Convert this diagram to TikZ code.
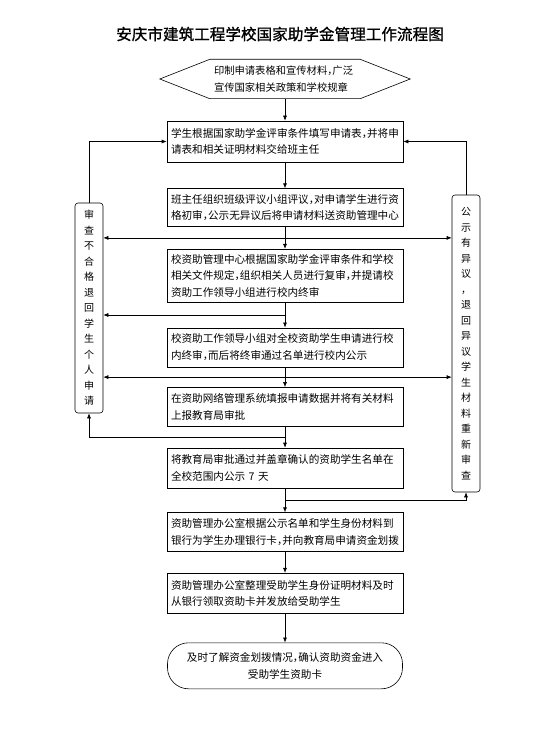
\documentclass[tikz,border=0pt]{standalone}
\usepackage{fontspec}
\setmainfont{Noto Sans CJK SC}
\newfontfamily\titlefont[FakeBold=1]{Noto Sans CJK SC}
\usetikzlibrary{arrows.meta, positioning, calc}
\newcommand{\hcomma}{\makebox[0.5em][l]{，}}
\tikzset{
    titletext/.style={font=\titlefont\fontsize{15.6pt}{18pt}\selectfont},
    stepbox/.style={rectangle, draw=black, line width=0.6pt, text width=228pt, inner xsep=4pt, inner ysep=2pt, align=left, font=\fontsize{10.6pt}{16.5pt}\selectfont},
    hextext/.style={rectangle, minimum width=150pt, minimum height=39pt, text width=142pt, inner xsep=4pt, align=left, font=\fontsize{10.3pt}{16.5pt}\selectfont},
    terminal/.style={rectangle, rounded corners=21pt, draw=black, line width=0.6pt, minimum width=235pt, minimum height=46pt, align=center, font=\fontsize{10.6pt}{17pt}\selectfont},
    sidebox/.style={rectangle, rounded corners=3pt, draw=black, line width=0.6pt, minimum width=28pt, align=center, font=\fontsize{10pt}{15.5pt}\selectfont},
    line/.style={line width=0.6pt},
    arrow/.style={line width=0.6pt,-{Latex[length=5pt,width=4pt]}},
    twoway/.style={line width=0.6pt,{Latex[length=5pt,width=4pt]}-{Latex[length=5pt,width=4pt]}}
}
\begin{document}
\begin{tikzpicture}[x=1pt, y=-1pt, node distance=22pt]
    \useasboundingbox (0,0) rectangle (558,735);
    \node (title) [titletext] at (280,34) {安庆市建筑工程学校国家助学金管理工作流程图};

    % main column
    \node (print) [hextext] at (285,79) {印制申请表格和宣传材料\hcomma 广泛\\宣传国家相关政策和学校规章};
    \draw [line] (print.north west) -- (print.north east) -- ([xshift=50pt]print.east) -- (print.south east) -- (print.south west) -- ([xshift=-50pt]print.west) -- cycle;
    \node (apply) [stepbox, minimum height=41pt, below=22pt of print] {学生根据国家助学金评审条件填写申请表\hcomma 并将申\\请表和相关证明材料交给班主任};
    \node (class) [stepbox, minimum height=38pt, below=26pt of apply] {班主任组织班级评议小组评议\hcomma 对申请学生进行资\\格初审\hcomma 公示无异议后将申请材料送资助管理中心};
    \node (centre) [stepbox, minimum height=53pt, below=22pt of class] {校资助管理中心根据国家助学金评审条件和学校\\相关文件规定\hcomma 组织相关人员进行复审\hcomma 并提请校\\资助工作领导小组进行校内终审};
    \node (final) [stepbox, minimum height=39pt, below=25pt of centre] {校资助工作领导小组对全校资助学生申请进行校\\内终审\hcomma 而后将终审通过名单进行校内公示};
    \node (report) [stepbox, minimum height=39pt, below=20pt of final] {在资助网络管理系统填报申请数据并将有关材料\\上报教育局审批};
    \node (publish) [stepbox, minimum height=40pt, below=21pt of report] {将教育局审批通过并盖章确认的资助学生名单在\\全校范围内公示 7 天};
    \node (bank) [stepbox, minimum height=39pt, below=24pt of publish] {资助管理办公室根据公示名单和学生身份材料到\\银行为学生办理银行卡\hcomma 并向教育局申请资金划拨};
    \node (issue) [stepbox, minimum height=40pt, below=21pt of bank] {资助管理办公室整理受助学生身份证明材料及时\\从银行领取资助卡并发放给受助学生};
    \node (check) [terminal, below=29pt of issue] {及时了解资金划拨情况\hcomma 确认资助资金进入\\受助学生资助卡};

    % side boxes
    \node (reject) [sidebox, minimum height=210pt] at (89,308) {审\\查\\不\\合\\格\\退\\回\\学\\生\\个\\人\\申\\请};
    \node (appeal) [sidebox, minimum height=297pt] at (466,343.5) {公\\示\\有\\异\\议\\，\\退\\回\\异\\议\\学\\生\\材\\料\\重\\新\\审\\查};

    \foreach \a/\b in {print/apply, apply/class, class/centre, centre/final, final/report, report/publish, publish/bank, bank/issue, issue/check}
        \draw [arrow] (\a.south) -- (\b.north);

    \coordinate (j1) at ($(class.south)!0.5!(centre.north)$);
    \coordinate (j2) at ($(centre.south)!0.5!(final.north)$);
    \coordinate (j3) at ($(final.south)!0.5!(report.north)$);
    \coordinate (j4) at ($(report.south)!0.5!(publish.north)$);
    \coordinate (j5) at ($(publish.south)!0.5!(bank.north)$);

    \draw [twoway] (reject.east |- j1) -- (appeal.west |- j1);
    \draw [arrow] (j2) -- (reject.east |- j2);
    \draw [twoway] (reject.east |- j3) -- (appeal.west |- j3);
    \draw [arrow] (j4) -| (reject.south);
    \draw [arrow] (j5) -| (appeal.south);
    \draw [arrow] (reject.north) |- (apply.west);
    \draw [arrow] (appeal.north) |- (apply.east);
\end{tikzpicture}
\end{document}
